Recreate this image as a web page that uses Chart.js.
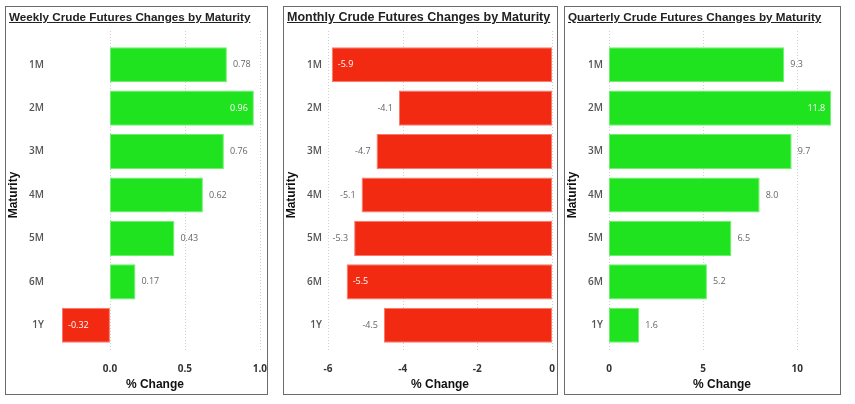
<!DOCTYPE html>
<html>
<head>
<meta charset="utf-8">
<script src="https://cdn.jsdelivr.net/npm/chart.js@4.4.0/dist/chart.umd.min.js"></script>
<style>
  body { margin: 0; background: #fff; width: 855px; height: 404px; overflow: hidden; }
  .panel { position: absolute; top: 6px; height: 389px; box-sizing: border-box; border: 1px solid #6b6b6b; background: #fff; }
  .panel .title { position: absolute; left: 3px; top: 3px; font-family: "Liberation Sans", Arial, sans-serif; font-weight: bold; color: #222; text-decoration: underline; white-space: nowrap; z-index: 2; }
  .panel canvas { position: absolute; left: 0; top: 0; }
</style>
</head>
<body>
<div class="panel" id="p1" style="left:5px;width:263px;"><div class="title" style="font-size:11.7px">Weekly Crude Futures Changes by Maturity</div><canvas id="chartWeekly"></canvas></div>
<div class="panel" id="p2" style="left:283px;width:275px;"><div class="title" style="font-size:12.5px">Monthly Crude Futures Changes by Maturity</div><canvas id="chartMonthly"></canvas></div>
<div class="panel" id="p3" style="left:564px;width:277px;"><div class="title" style="font-size:11.7px">Quarterly Crude Futures Changes by Maturity</div><canvas id="chartQuarterly"></canvas></div>
<script>
const maturities = ['1M', '2M', '3M', '4M', '5M', '6M', '1Y'];

const weeklyChange = [0.78, 0.96, 0.76, 0.62, 0.43, 0.17, -0.32];
const monthlyChange = [-5.9, -4.1, -4.7, -5.1, -5.3, -5.5, -4.5];
const quarterlyChange = [9.3, 11.8, 9.7, 8.0, 6.5, 5.2, 1.6];

const weeklyTicks = [0, 0.5, 1.0];
const monthlyTicks = [-6, -4, -2, 0];
const quarterlyTicks = [0, 5, 10];

const GREEN = '#1ee31e';
const RED = '#f22a12';

// labels at the bar ends, white inside when they don't fit outside
const barLabels = {
  id: 'barLabels',
  afterDatasetsDraw(chart, args, opts) {
    const c = chart.ctx;
    const area = chart.chartArea;
    const ds = chart.data.datasets[0];
    const meta = chart.getDatasetMeta(0);
    c.save();
    c.font = '9px "Open Sans", sans-serif';
    c.textBaseline = 'middle';
    meta.data.forEach((bar, i) => {
      const v = ds.data[i];
      const txt = opts.format(v);
      const w = c.measureText(txt).width;
      if (v >= 0) {
        if (bar.x + 6 + w <= area.right) {
          c.fillStyle = '#666'; c.textAlign = 'left'; c.fillText(txt, bar.x + 6, bar.y);
        } else {
          c.fillStyle = '#fff'; c.textAlign = 'right'; c.fillText(txt, bar.x - 6, bar.y);
        }
      } else {
        if (bar.x - 6 - w >= area.left) {
          c.fillStyle = '#666'; c.textAlign = 'right'; c.fillText(txt, bar.x - 6, bar.y);
        } else {
          c.fillStyle = '#fff'; c.textAlign = 'left'; c.fillText(txt, bar.x + 6, bar.y);
        }
      }
    });
    c.restore();
  }
};

// dotted vertical grid, a bit taller than the plot area
const dotGrid = {
  id: 'dotGrid',
  beforeDatasetsDraw(chart) {
    const c = chart.ctx;
    const x = chart.scales.x;
    const area = chart.chartArea;
    c.save();
    c.strokeStyle = '#cfcfcf';
    c.lineWidth = 1;
    c.setLineDash([1, 2]);
    x.ticks.forEach(t => {
      const px = Math.round(x.getPixelForValue(t.value)) + 0.5;
      c.beginPath();
      c.moveTo(px, area.top - 12);
      c.lineTo(px, area.bottom + 4);
      c.stroke();
    });
    c.restore();
  }
};

function makeChart(id, values, ticks, min, max, padRight, fmt, tickFmt) {
  const panel = document.getElementById(id).parentElement;
  const canvas = document.getElementById(id);
  canvas.style.width = (panel.clientWidth) + 'px';
  canvas.style.height = (panel.clientHeight) + 'px';
  canvas.width = panel.clientWidth;
  canvas.height = panel.clientHeight;
  return new Chart(canvas, {
    type: 'bar',
    data: {
      labels: maturities,
      datasets: [{
        data: values,
        backgroundColor: values.map(v => v >= 0 ? GREEN : RED),
        borderColor: values.map(v => v >= 0 ? '#6cf06c' : '#f77a6a'),
        borderWidth: 1,
        borderSkipped: false,
        barPercentage: 0.81,
        categoryPercentage: 1
      }]
    },
    options: {
      indexAxis: 'y',
      responsive: false,
      animation: false,
      layout: { padding: { top: 36, right: padRight, left: 0, bottom: 0 } },
      plugins: {
        legend: { display: false },
        tooltip: { enabled: false },
        barLabels: { format: fmt }
      },
      scales: {
        x: {
          min: min,
          max: max,
          grid: { display: false, drawTicks: true, tickLength: 16 },
          border: { display: false },
          afterBuildTicks: s => { s.ticks = ticks.map(v => ({ value: v })); },
          afterFit: s => { s.height = 47; },
          ticks: {
            padding: 0,
            color: '#333',
            font: { family: '"Open Sans", sans-serif', size: 10, weight: 'bold' },
            callback: tickFmt,
            maxRotation: 0
          },
          title: {
            display: true,
            text: '% Change',
            color: '#111',
            font: { family: '"Liberation Sans", Arial, sans-serif', size: 12, weight: 'bold' },
            padding: { top: 0, bottom: 2 }
          }
        },
        y: {
          grid: { display: false, drawTicks: false },
          border: { display: false },
          afterFit: s => { s.width = 44; },
          ticks: {
            padding: 6,
            color: '#555',
            font: { family: '"Open Sans", sans-serif', size: 10, weight: '600' }
          },
          title: {
            display: true,
            text: 'Maturity',
            color: '#111',
            font: { family: '"Liberation Sans", Arial, sans-serif', size: 12, weight: 'bold' },
            padding: { top: 0, bottom: 0 }
          }
        }
      }
    },
    plugins: [dotGrid, barLabels]
  });
}

makeChart('chartWeekly', weeklyChange, weeklyTicks, -0.4, 1.0, 7,
  v => v.toFixed(2), v => v.toFixed(1));
makeChart('chartMonthly', monthlyChange, monthlyTicks, -6, 0, 5,
  v => v.toFixed(1), v => String(v));
makeChart('chartQuarterly', quarterlyChange, quarterlyTicks, 0, 12, 5,
  v => v.toFixed(1), v => String(v));
</script>
</body>
</html>
